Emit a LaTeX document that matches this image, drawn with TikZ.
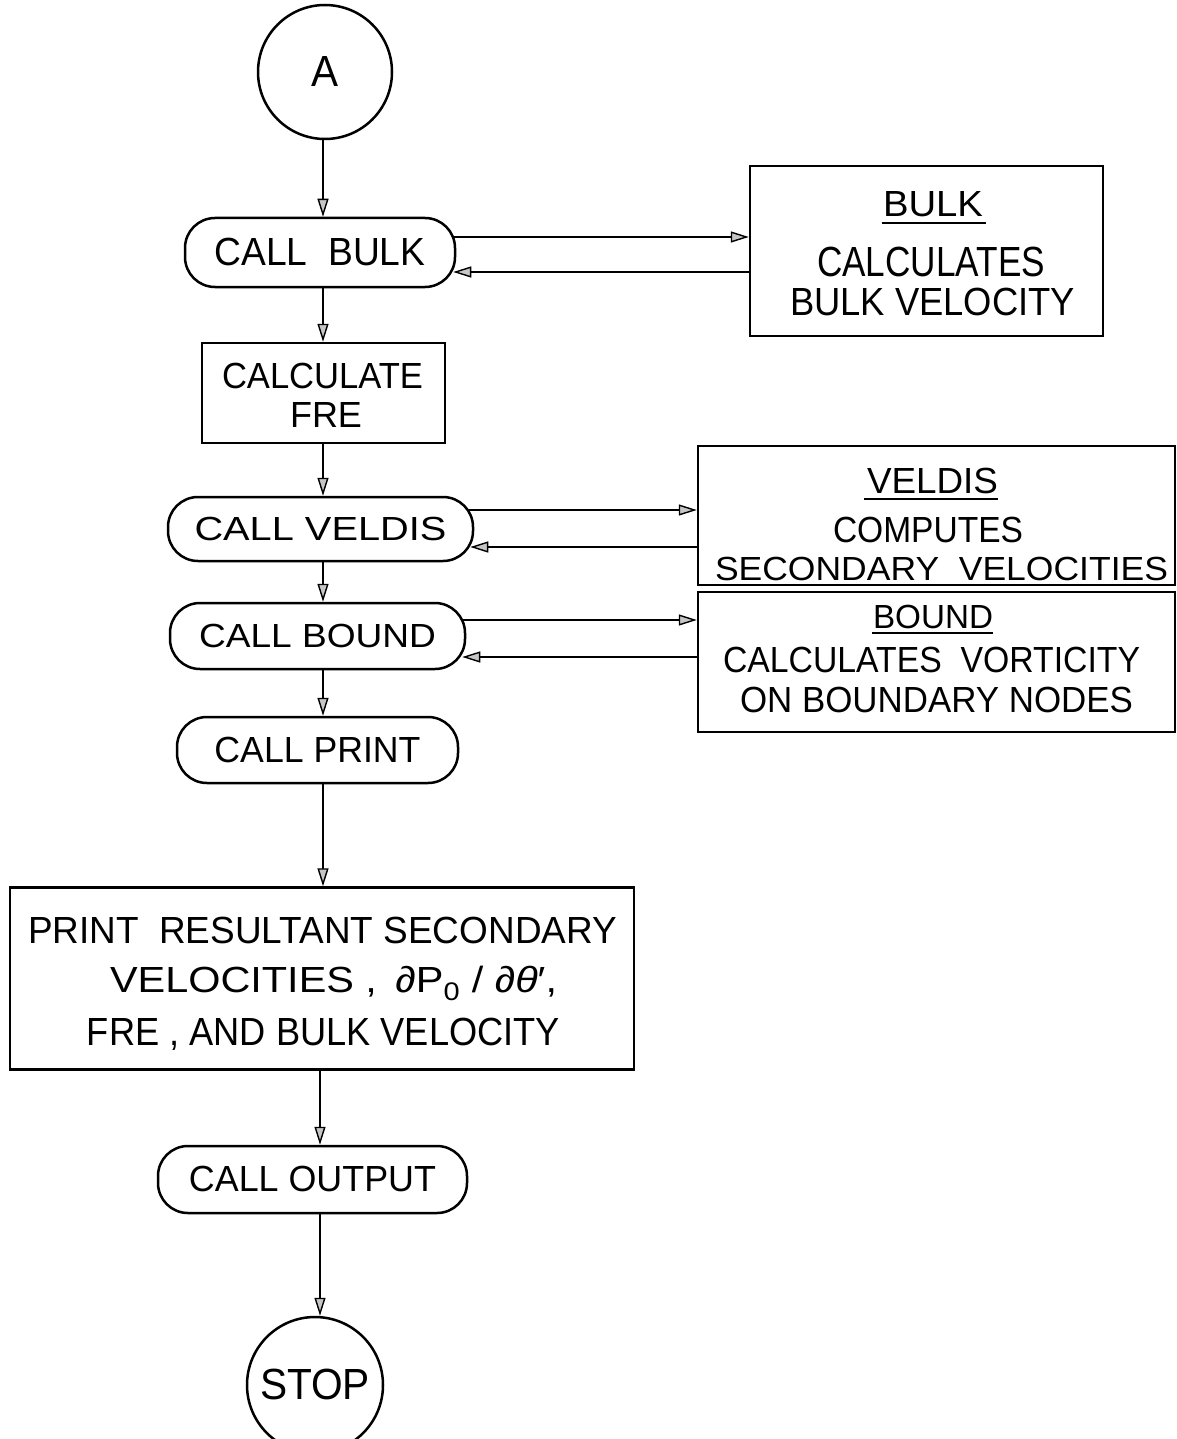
\documentclass[tikz,border=0pt]{standalone}
\usepackage{fontspec}
\setmainfont{Liberation Sans}
\usepackage{graphicx}
\usetikzlibrary{arrows.meta}
\newcommand\fitline[3]{\resizebox{#1pt}{#2pt}{\raisebox{0pt}[\fontcharht\font`H]{#3}}}
\tikzset{
  term/.style={draw, line width=2.5pt, rounded corners=30pt, inner sep=0pt, font=\fontsize{34}{40}\selectfont},
  boxs/.style={draw, line width=2.5pt, rectangle, inner sep=0pt},
  circ/.style={draw, line width=2.5pt, circle, inner sep=0pt, font=\fontsize{34}{40}\selectfont},
  txt/.style={inner sep=0pt, anchor=base, font=\fontsize{34}{40}\selectfont},
  conn/.style={line width=2.5pt, -{Triangle[length=18pt,width=11pt,fill=gray!45,line width=1.4pt]}},
  uline/.style={line width=2.5pt}
}
\begin{document}
\begin{tikzpicture}[x=1pt,y=-1pt]
\useasboundingbox (0,0) rectangle (1176,1439);
\clip (0,0) rectangle (1176,1439);

% left column
\node[circ, minimum size=134pt] (A) at (325,72) {\fitline{27}{30}{A}};
\node[term, minimum width=270pt, minimum height=69pt] (callbulk) at (320,252.5) {\fitline{211}{27}{CALL\ \ BULK}};
\node[boxs, minimum width=243pt, minimum height=100pt] (calcfre) at (323.5,393) {};
\node[txt] (calcfreT1) at (322.5,388) {\fitline{201}{25}{CALCULATE}};
\node[txt] (calcfreT2) at (326,427) {\fitline{72}{25}{FRE}};
\node[term, minimum width=305pt, minimum height=64pt] (callveldis) at (320.5,529) {\fitline{252}{23}{CALL VELDIS}};
\node[term, minimum width=295pt, minimum height=66pt] (callbound) at (317.5,636) {\fitline{237}{23}{CALL BOUND}};
\node[term, minimum width=281pt, minimum height=66pt] (callprint) at (317.5,750) {\fitline{206}{25}{CALL PRINT}};
\node[boxs, minimum width=624pt, minimum height=182pt] (printbox) at (322,978.5) {};
\node[txt] (printT1) at (322.5,943) {\fitline{589}{26}{PRINT\ \ RESULTANT SECONDARY}};
\node[txt] (printT2) at (333.5,992) {\fitline{447}{25}{VELOCITIES , \,∂P\textsubscript{0} / ∂{\itshape θ}′,}};
\node[txt] (printT3) at (323.5,1045) {\fitline{473}{27}{FRE , AND BULK VELOCITY}};
\node[term, minimum width=309pt, minimum height=67pt] (calloutput) at (312.5,1179.5) {\fitline{247}{25}{CALL OUTPUT}};
\node[circ, minimum size=136pt] (stop) at (315,1385) {\fitline{110}{30}{STOP}};

% right column
\node[boxs, minimum width=353pt, minimum height=170pt] (bulkbox) at (926.5,251) {};
\node[txt] (bulkT1) at (933,217) {\fitline{100}{25}{BULK}};
\node[txt] (bulkT2) at (931,276) {\fitline{228}{29}{CALCULATES}};
\node[txt] (bulkT3) at (932.5,315) {\fitline{285}{27}{BULK VELOCITY}};
\draw[uline] ([yshift=-6pt,xshift=-1pt]bulkT1.base west) -- ([yshift=-6pt,xshift=3pt]bulkT1.base east);

\node[boxs, minimum width=477pt, minimum height=139pt] (veldisbox) at (936.5,515.5) {};
\node[txt] (veldisT1) at (932.5,493) {\fitline{131}{25}{VELDIS}};
\node[txt] (veldisT2) at (928,542) {\fitline{190}{25}{COMPUTES}};
\node[txt] (veldisT3) at (941.5,580) {\fitline{453}{23}{SECONDARY\ \ VELOCITIES}};
\draw[uline] ([yshift=-6pt,xshift=-3pt]veldisT1.base west) -- ([yshift=-6pt]veldisT1.base east);

\node[boxs, minimum width=477pt, minimum height=140pt] (boundbox) at (936.5,662) {};
\node[txt] (boundT1) at (933,628) {\fitline{120}{23}{BOUND}};
\node[txt] (boundT2) at (931.5,672) {\fitline{417}{25}{CALCULATES\ \ VORTICITY}};
\node[txt] (boundT3) at (936.5,712) {\fitline{393}{25}{ON BOUNDARY NODES}};
\draw[uline] ([yshift=-5pt,xshift=-1pt]boundT1.base west) -- ([yshift=-5pt]boundT1.base east);

% spine connectors
\coordinate (sp1) at (323,0);
\coordinate (sp2) at (320,0);
\draw[conn] (A.south -| sp1) -- (callbulk.north -| sp1);
\draw[conn] (callbulk.south -| sp1) -- (calcfre.north -| sp1);
\draw[conn] (calcfre.south -| sp1) -- (callveldis.north -| sp1);
\draw[conn] (callveldis.south -| sp1) -- (callbound.north -| sp1);
\draw[conn] (callbound.south -| sp1) -- (callprint.north -| sp1);
\draw[conn] (callprint.south -| sp1) -- (printbox.north -| sp1);
\draw[conn] (printbox.south -| sp2) -- (calloutput.north -| sp2);
\draw[conn] (calloutput.south -| sp2) -- (stop.north -| sp2);

% side connectors
\coordinate (bo) at (0,237);
\coordinate (bi) at (0,272);
\coordinate (vo) at (0,510);
\coordinate (vi) at (0,547);
\coordinate (ko) at (0,620);
\coordinate (ki) at (0,657);
\draw[conn] ([xshift=-3pt]callbulk.east |- bo) -- (bulkbox.west |- bo);
\draw[conn] (bulkbox.west |- bi) -- ([xshift=-3pt]callbulk.east |- bi);
\draw[conn] ([xshift=-5pt]callveldis.east |- vo) -- (veldisbox.west |- vo);
\draw[conn] (veldisbox.west |- vi) -- ([xshift=-4pt]callveldis.east |- vi);
\draw[conn] ([xshift=-5pt]callbound.east |- ko) -- (boundbox.west |- ko);
\draw[conn] (boundbox.west |- ki) -- ([xshift=-4pt]callbound.east |- ki);
\end{tikzpicture}
\end{document}
